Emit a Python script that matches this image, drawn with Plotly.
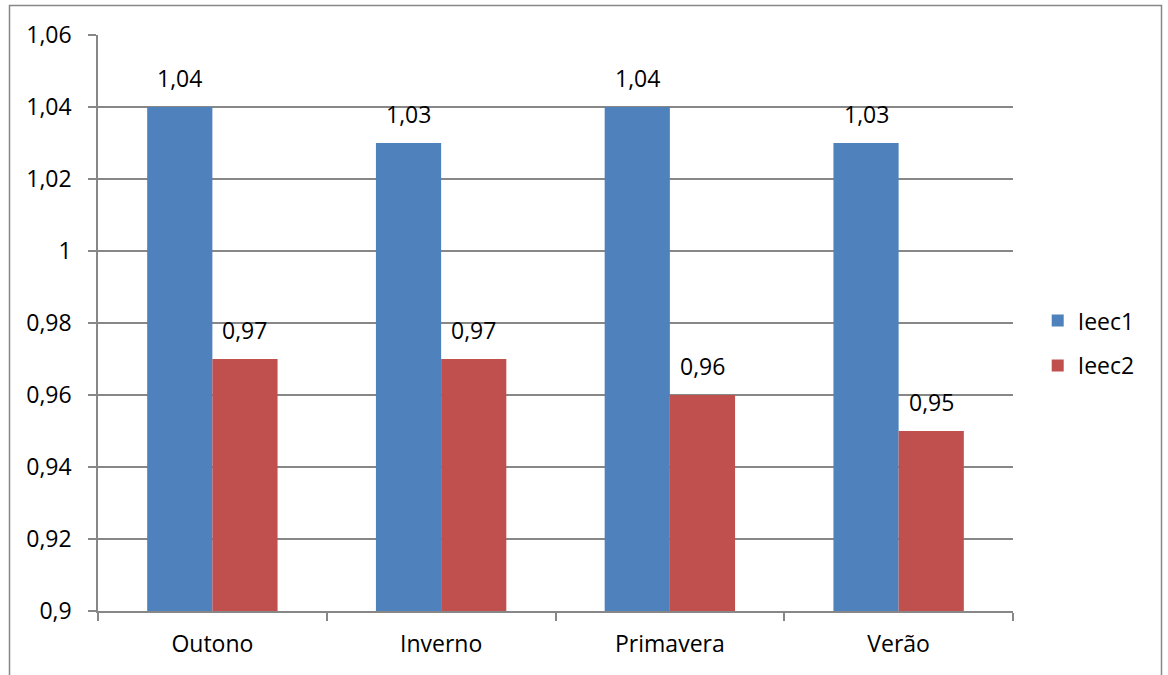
import plotly.graph_objects as go

# Seasons and the two index series
seasons = ["Outono", "Inverno", "Primavera", "Verão"]
ieec1 = [1.04, 1.03, 1.04, 1.03]
ieec2 = [0.97, 0.97, 0.96, 0.95]

y_tickvals = [0.9, 0.92, 0.94, 0.96, 0.98, 1.0, 1.02, 1.04, 1.06]
y_ticktext = ["0,9", "0,92", "0,94", "0,96", "0,98", "1", "1,02", "1,04", "1,06"]

FONT = "Open Sans"
FSIZE = 23
GRID = "#878787"
BLUE = "#4F81BD"
RED = "#C0504D"


def fmt(v):
    s = f"{v:.2f}".rstrip("0").rstrip(".")
    return s.replace(".", ",")


fig = go.Figure()
fig.add_trace(go.Bar(name="Ieec1", x=seasons, y=ieec1, marker_color=BLUE,
                     marker_line_width=0, legendgroup="a"))
fig.add_trace(go.Bar(name="Ieec2", x=seasons, y=ieec2, marker_color=RED,
                     marker_line_width=0, legendgroup="b"))

# Value labels above each bar
bargap = 0.43
half = (1 - bargap) / 4  # centre offset of each bar within its category, in category units
cat_px = 915 / len(seasons)
for vals, sign in ((ieec1, -1), (ieec2, 1)):
    for s, v in zip(seasons, vals):
        fig.add_annotation(x=s, y=v, text=fmt(v), showarrow=False,
                           xshift=sign * half * cat_px, yshift=11,
                           yanchor="bottom",
                           font=dict(family=FONT, size=FSIZE, color="#000"))

# Outer chart frame
fig.add_shape(type="rect", xref="paper", yref="paper",
              x0=(9.5 - 98) / 915, x1=(1161.5 - 98) / 915,
              y0=-0.3, y1=(611 - 5.5) / 576,
              line=dict(color=GRID, width=1.5), fillcolor="rgba(0,0,0,0)")

fig.update_layout(
    width=1168, height=675,
    margin=dict(l=98, r=155, t=35, b=64),
    paper_bgcolor="white", plot_bgcolor="white",
    barmode="group", bargap=bargap, bargroupgap=0,
    font=dict(family=FONT, size=FSIZE, color="#000"),
    showlegend=True,
    legend=dict(x=1.027, xanchor="left", y=0.465, yanchor="middle",
                traceorder="grouped", tracegroupgap=12,
                font=dict(family=FONT, size=FSIZE), itemwidth=30),
)
fig.update_xaxes(
    type="category", showgrid=False, showline=True, linecolor=GRID, linewidth=1.5,
    ticks="outside", tickson="boundaries", ticklen=8, tickcolor=GRID, tickwidth=1.5,
    ticklabelstandoff=12,
)
fig.update_yaxes(
    range=[0.9, 1.06], tickvals=y_tickvals, ticktext=y_ticktext,
    showgrid=True, gridcolor=GRID, gridwidth=1.5,
    showline=True, linecolor=GRID, linewidth=1.5,
    ticks="outside", ticklen=8, tickcolor=GRID, tickwidth=1.5,
    ticklabelstandoff=12, zeroline=False,
)

fig.write_html("out.html")
